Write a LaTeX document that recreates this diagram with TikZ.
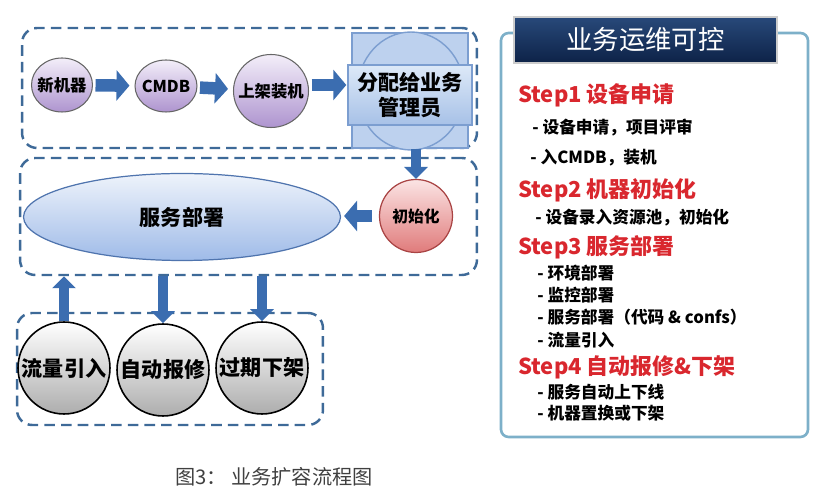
\documentclass[tikz,border=0pt]{standalone}
\usepackage{fontspec}
\setmainfont{Noto Sans CJK SC}
\usetikzlibrary{arrows.meta,positioning,calc,shapes.geometric}
\definecolor{dashBlue}{HTML}{3E6A98}
\definecolor{arrowBlue}{HTML}{3B6DB0}
\definecolor{purpleTop}{HTML}{F3EEF9}
\definecolor{purpleBot}{HTML}{AE94CF}
\definecolor{assignFill}{HTML}{BDD1EE}
\definecolor{assignLine}{HTML}{7C9ED0}
\definecolor{assignTop}{HTML}{DDE9F8}
\definecolor{assignBot}{HTML}{A7C1E7}
\definecolor{initTop}{HTML}{FBE4E4}
\definecolor{initBot}{HTML}{E07B7B}
\definecolor{initLine}{HTML}{A94444}
\definecolor{deployTop}{HTML}{EEF3FB}
\definecolor{deployBot}{HTML}{9FBBE8}
\definecolor{deployLine}{HTML}{4F74AE}
\definecolor{panelLine}{HTML}{7DB0C9}
\definecolor{navyTop}{HTML}{28497A}
\definecolor{navyBot}{HTML}{0D2247}
\definecolor{stepRed}{HTML}{D9272E}
\newcommand{\ztext}[1]{\makebox[0pt]{#1}}

\begin{document}
\begin{tikzpicture}[x=0.02cm, y=-0.02cm,
  groupbox/.style={draw=dashBlue,line width=1.4pt,dash pattern=on 6pt off 3.5pt,rounded corners=0.3cm},
  pnode/.style={ellipse,draw=black!60,line width=0.6pt,top color=purpleTop,bottom color=purpleBot,inner sep=0pt,font=\fontsize{9.3}{10}\selectfont\bfseries},
  gnode/.style={circle,draw=black,line width=0.9pt,top color=white,bottom color=black!32,minimum size=1.84cm,inner sep=0pt,font=\fontsize{12}{14}\selectfont\bfseries},
  harrow/.style={arrowBlue,line width=0.25cm,-{Triangle[length=0.26cm,width=0.6cm]},shorten <=0.05cm,shorten >=0.1cm},
  varrow/.style={arrowBlue,line width=0.2cm,-{Triangle[length=0.24cm,width=0.46cm]}},
  stepline/.style={anchor=west,inner sep=0pt,text=stepRed,font=\fontsize{12.5}{14}\selectfont\bfseries},
  itemline/.style={anchor=west,inner sep=0pt,font=\fontsize{9.5}{11}\selectfont\bfseries}
]
\useasboundingbox (0,0) rectangle (829,499);

% group frames
\node[groupbox,minimum width=9.1cm,minimum height=2.4cm] (topbox) at (249.5,88) {};
\node[groupbox,minimum width=9.14cm,minimum height=2.34cm] (midbox) at (248.5,216.5) {};
\node[groupbox,minimum width=6.12cm,minimum height=2.24cm] (botbox) at (170,369) {};

% top row
\node[pnode,minimum width=1.22cm,minimum height=1.08cm] (newm) at (62,85) {\ztext{新机器}};
\node[pnode,minimum width=1.24cm,minimum height=1.04cm] (cmdb) at (166,86) {\ztext{CMDB}};
\node[pnode,minimum width=1.5cm,minimum height=1.46cm] (rack) at (271,91) {\ztext{上架装机}};
\node[rectangle,draw=assignLine,fill=assignFill,line width=0.8pt,minimum width=2.32cm,minimum height=2.3cm] (assignsq) at (410,90.5) {};
\node[ellipse,draw=assignLine,fill=assignFill,line width=0.8pt,minimum width=2.14cm,minimum height=2.36cm] (assigncirc) at (411,91) {};
\node[rectangle,draw=assignLine,top color=assignTop,bottom color=assignBot,line width=0.8pt,
  minimum width=2.48cm,minimum height=1.2cm,align=center,font=\fontsize{12}{14.5}\selectfont\bfseries] (assign) at (410,95) {分配给业务\\管理员};

\draw[harrow] (newm) -- (cmdb);
\draw[harrow] (cmdb) -- (rack);
\draw[harrow] (rack.east |- newm) -- (assignsq.west |- newm);

% middle row
\node[circle,draw=initLine,line width=0.7pt,top color=initTop,bottom color=initBot,minimum size=1.46cm,inner sep=0pt,
  font=\fontsize{9}{10}\selectfont\bfseries] (init) at (416,216) {\ztext{初始化}};
\node[ellipse,draw=deployLine,line width=0.7pt,top color=deployTop,bottom color=deployBot,minimum width=6.34cm,minimum height=1.74cm,
  inner sep=0pt,font=\fontsize{12}{14}\selectfont\bfseries] (deploy) at (182,217) {服务部署};

\draw[varrow] (init |- assignsq.south) -- (init.north);
\draw[harrow,shorten <=0.14cm,shorten >=0.06cm] (init.west) -- (init.west -| deploy.east);

% bottom row
\node[gnode] (flow) at (64,368) {\ztext{流量引入}};
\node[gnode] (repair) at (163,370) {\ztext{自动报修}};
\node[gnode] (retire) at (262,368) {\ztext{过期下架}};

\draw[varrow] (flow.north) -- (flow.north |- midbox.south);
\draw[varrow] (repair.north |- midbox.south) -- (repair.north);
\draw[varrow] (retire.north |- midbox.south) -- (retire.north);

\node[text=black!75,font=\fontsize{11.5}{13}\selectfont] (caption) at (274,477) {图3： 业务扩容流程图};

% control panel
\node[draw=panelLine,line width=1.5pt,rounded corners=0.15cm,minimum width=6.14cm,minimum height=8.08cm] (ctrl) at (654.5,235) {};
\node[draw=black!20,line width=1pt,top color=navyTop,bottom color=navyBot,text=white,minimum width=5.26cm,minimum height=0.92cm,
  font=\fontsize{15}{17}\selectfont] (ctrltitle) at (645.5,40) {业务运维可控};

\node[stepline] (s1) at (518,95) {Step1 设备申请};
\node[itemline] (s1a) at (532,128) {- 设备申请，项目评审};
\node[itemline] (s1b) at (530,158) {- 入CMDB，装机};
\node[stepline] (s2) at (518,190) {Step2 机器初始化};
\node[itemline] (s2a) at (535,218) {- 设备录入资源池，初始化};
\node[stepline] (s3) at (518,247) {Step3 服务部署};
\node[itemline] (s3a) at (537,273) {- 环境部署};
\node[itemline] (s3b) at (537,295) {- 监控部署};
\node[itemline] (s3c) at (537,317) {- 服务部署（代码 \& confs）};
\node[itemline] (s3d) at (537,340) {- 流量引入};
\node[stepline] (s4) at (518,367) {Step4 自动报修\&下架};
\node[itemline] (s4a) at (537,392) {- 服务自动上下线};
\node[itemline] (s4b) at (537,413) {- 机器置换或下架};
\end{tikzpicture}
\end{document}
